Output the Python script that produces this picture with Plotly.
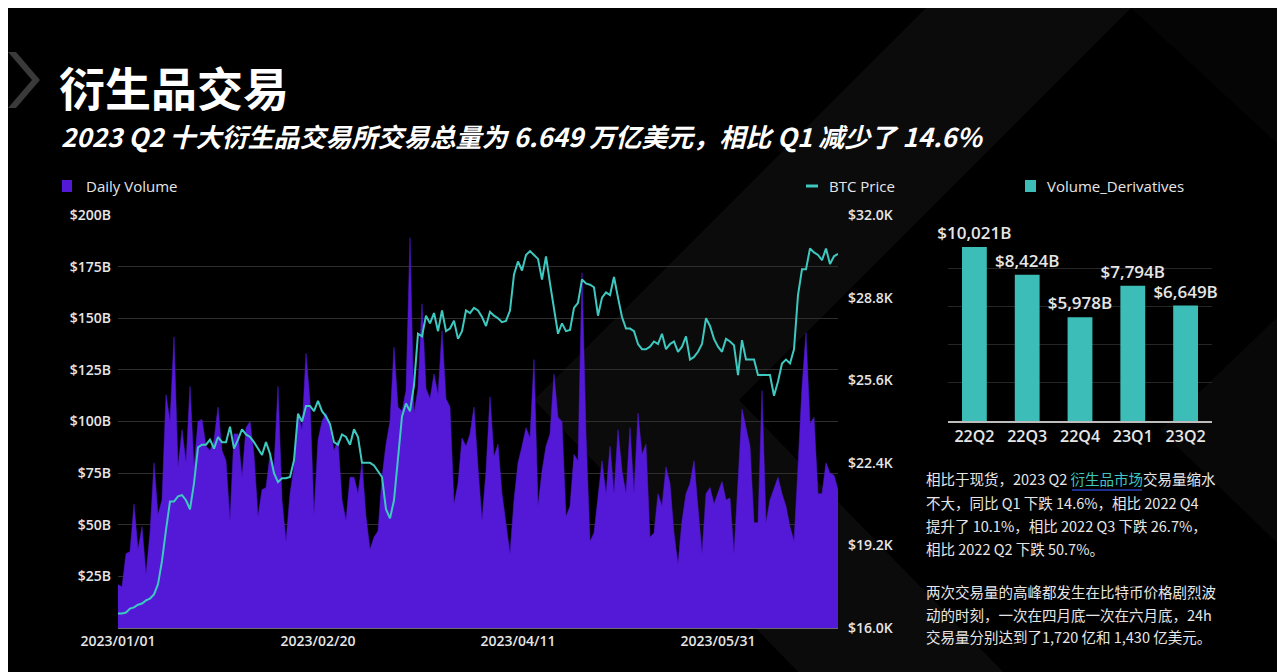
import pandas as pd
import plotly.graph_objects as go

W, H = 1285, 672

# ---------------- data ----------------
start_date = "2023-01-01"
end_date = "2023-06-30"

daily_volume_b = [
    21, 20, 36, 37, 60, 38, 49, 26, 46, 80,
    55, 62, 113, 100, 141, 78, 96, 80, 117, 78,
    100, 101, 88, 86, 91, 107, 86, 81, 52, 94,
    94, 73, 97, 100, 84, 54, 67, 68, 84, 78,
    117, 62, 42, 65, 78, 104, 96, 133, 110, 55,
    91, 100, 104, 97, 86, 91, 62, 52, 73, 73,
    65, 80, 54, 38, 44, 47, 73, 89, 100, 136,
    107, 105, 115, 189, 104, 116, 157, 116, 111, 123,
    113, 144, 111, 107, 60, 70, 92, 88, 94, 107,
    78, 52, 76, 112, 83, 89, 65, 49, 36, 62,
    80, 88, 97, 92, 130, 59, 76, 88, 94, 123,
    102, 100, 54, 59, 84, 81, 172, 94, 42, 46,
    62, 81, 65, 88, 65, 96, 76, 65, 97, 65,
    104, 84, 89, 44, 46, 65, 59, 78, 70, 46,
    31, 52, 65, 70, 81, 60, 36, 65, 68, 60,
    65, 71, 62, 63, 36, 70, 106, 97, 88, 51,
    51, 115, 51, 62, 68, 73, 65, 59, 49, 42,
    78, 117, 143, 99, 102, 65, 65, 80, 75, 74,
    67,
]

btc_price_k = [
    16.56, 16.56, 16.6, 16.75, 16.8, 16.9, 16.95, 17.07, 17.14, 17.3,
    17.7, 18.6, 19.8, 20.9, 20.9, 21.1, 21.15, 20.95, 20.6, 21.6,
    23.0, 23.1, 23.1, 23.3, 22.95, 23.4, 23.2, 23.2, 23.8, 22.95,
    23.3, 23.7, 23.5, 23.4, 23.2, 22.95, 22.7, 23.2, 22.75, 22.0,
    21.65, 21.8, 21.8, 21.85, 22.5, 24.3, 24.0, 24.6, 24.6, 24.4,
    24.8, 24.4, 24.2, 23.9, 23.2, 23.1, 23.5, 23.4, 23.1, 23.7,
    23.4, 22.4, 22.4, 22.4, 22.3, 22.05, 21.85, 20.6, 20.25, 20.95,
    22.65, 24.2, 24.7, 24.4, 25.4, 27.4, 27.3, 28.1, 27.8, 28.2,
    27.5, 28.3, 27.5, 27.6, 27.9, 27.2, 27.5, 28.3, 28.2, 28.4,
    28.3, 28.05, 27.7, 28.25, 28.1, 28.0, 27.85, 27.9, 28.3, 29.7,
    30.2, 29.85, 30.45, 30.6, 30.45, 30.3, 29.5, 30.4, 29.35, 28.3,
    27.4, 27.8, 27.5, 27.55, 28.4, 28.6, 29.5, 29.35, 29.3, 29.2,
    28.1, 28.8, 29.0, 28.9, 29.6, 28.8, 28.05, 27.6, 27.6, 27.5,
    27.0, 26.8, 26.8, 26.9, 27.1, 27.0, 27.4, 26.8, 27.0, 27.1,
    26.7, 26.9, 27.3, 26.4, 26.5, 26.7, 27.0, 28.0, 27.7, 27.2,
    26.9, 26.7, 27.2, 27.1, 26.95, 25.8, 27.15, 26.4, 26.4, 26.4,
    25.8, 25.8, 25.8, 25.8, 25.0, 25.55, 26.25, 26.4, 26.25, 26.8,
    28.9, 29.9, 29.9, 30.7, 30.55, 30.45, 30.25, 30.7, 30.1, 30.4,
    30.5,
]

date_tick_vals = ["2023-01-01", "2023-02-20", "2023-04-11", "2023-05-31"]
date_tick_text = ["2023/01/01", "2023/02/20", "2023/04/11", "2023/05/31"]

vol_tick_vals = [25, 50, 75, 100, 125, 150, 175, 200]
vol_tick_text = ["$25B", "$50B", "$75B", "$100B", "$125B", "$150B", "$175B", "$200B"]

price_tick_vals = [16.0, 19.2, 22.4, 25.6, 28.8, 32.0]
price_tick_text = ["$16.0K", "$19.2K", "$22.4K", "$25.6K", "$28.8K", "$32.0K"]

quarters = ["22Q2", "22Q3", "22Q4", "23Q1", "23Q2"]
volume_derivatives_b = [10021, 8424, 5978, 7794, 6649]

title_text = "衍生品交易"
subtitle_text = "2023 Q2 十大衍生品交易所交易总量为 6.649 万亿美元，相比 Q1 减少了 14.6%"
note_lines = [
    "相比于现货，2023 Q2 <span style='color:#3ec6c0'>衍生品市场</span>交易量缩水",
    "不大，同比 Q1 下跌 14.6%，相比 2022 Q4",
    "提升了 10.1%，相比 2022 Q3 下跌 26.7%，",
    "相比 2022 Q2 下跌 50.7%。",
    "两次交易量的高峰都发生在比特币价格剧烈波",
    "动的时刻，一次在四月底一次在六月底，24h",
    "交易量分别达到了1,720 亿和 1,430 亿美元。",
]

# ---------------- styles ----------------
PURPLE = "#5419d6"
TEAL_LINE = "#3ec9c0"
TEAL_BAR = "#3dbdb8"
TXT = "#e6e6e6"
GRID = "#2e2e2e"
FONT = "Open Sans, Noto Sans CJK SC, sans-serif"
CJK = "Noto Sans CJK SC, Open Sans, sans-serif"

OFF = 8  # page body margin


def px(x):
    return (x - OFF) / W


def py(y):
    return 1 - (y - OFF) / H


dates = pd.date_range(start_date, end_date, freq="D")

fig = go.Figure()

fig.add_trace(go.Scatter(
    x=dates, y=daily_volume_b, mode="lines", fill="tozeroy",
    fillcolor=PURPLE, line=dict(color=PURPLE, width=0.5),
    xaxis="x", yaxis="y", showlegend=False, hoverinfo="skip",
))
fig.add_trace(go.Scatter(
    x=dates, y=btc_price_k, mode="lines",
    line=dict(color=TEAL_LINE, width=2),
    xaxis="x", yaxis="y3", showlegend=False, hoverinfo="skip",
))
fig.add_trace(go.Bar(
    x=quarters, y=volume_derivatives_b, marker=dict(color=TEAL_BAR, line=dict(width=0)),
    texttemplate="$%{y:,.0f}B", textposition="outside", constraintext="none",
    textfont=dict(family=FONT, size=17, color=TXT, weight=600), cliponaxis=False,
    xaxis="x2", yaxis="y2", showlegend=False, hoverinfo="skip",
))


def poly(pts):
    return "M " + " L ".join(f"{px(x):.5f},{py(y):.5f}" for x, y in pts) + " Z"


shapes = []
shapes.append(dict(type="path", xref="paper", yref="paper", layer="below",
                   path=poly([(926, 8), (1131, 8), (739, 400), (1011, 680), (806, 680), (534, 400)]),
                   fillcolor="rgba(255,255,255,0.045)", line=dict(width=0)))
shapes.append(dict(type="path", xref="paper", yref="paper", layer="below",
                   path=poly([(1131, 8), (1295, 8), (1295, 160)]),
                   fillcolor="rgba(255,255,255,0.02)", line=dict(width=0)))
shapes.append(dict(type="path", xref="paper", yref="paper", layer="below",
                   path=poly([(1295, 300), (1295, 560), (1160, 430)]),
                   fillcolor="rgba(255,255,255,0.03)", line=dict(width=0)))
# left chevron
shapes.append(dict(type="path", xref="paper", yref="paper", layer="below",
                   path=poly([(8, 52), (16, 52), (40, 80), (16, 108), (8, 108), (32, 80)]),
                   fillcolor="#3a3a3a", line=dict(width=0)))
# legend markers
shapes.append(dict(type="rect", xref="paper", yref="paper",
                   x0=px(62), x1=px(72), y0=py(192), y1=py(180),
                   fillcolor=PURPLE, line=dict(width=0)))
shapes.append(dict(type="line", xref="paper", yref="paper",
                   x0=px(806), x1=px(818), y0=py(186), y1=py(186),
                   line=dict(color=TEAL_LINE, width=3)))
shapes.append(dict(type="rect", xref="paper", yref="paper",
                   x0=px(1025), x1=px(1036), y0=py(192), y1=py(180),
                   fillcolor=TEAL_BAR, line=dict(width=0)))
# underline under highlighted phrase
shapes.append(dict(type="line", xref="paper", yref="paper",
                   x0=px(1072), x1=px(1142), y0=py(490), y1=py(490),
                   line=dict(color="#1f2f8f", width=2)))

annotations = [
    dict(text=f"<b>{title_text}</b>", x=px(57), y=py(86), xanchor="left", yanchor="middle",
         font=dict(family=CJK, size=46, color="white")),
    dict(text=f"<b><i>{subtitle_text}</i></b>", x=px(59), y=py(135), xanchor="left", yanchor="middle",
         font=dict(family=CJK, size=26, color="white")),
    dict(text="Daily Volume", x=px(84), y=py(186), xanchor="left", yanchor="middle",
         font=dict(family=FONT, size=15, color=TXT)),
    dict(text="BTC Price", x=px(827), y=py(186), xanchor="left", yanchor="middle",
         font=dict(family=FONT, size=15, color=TXT)),
    dict(text="Volume_Derivatives", x=px(1045), y=py(186), xanchor="left", yanchor="middle",
         font=dict(family=FONT, size=15, color=TXT)),
]
line_ys = [479, 502, 525, 548, 591, 614, 636]
for txt, yy in zip(note_lines, line_ys):
    annotations.append(dict(text=txt, x=px(924), y=py(yy), xanchor="left", yanchor="middle",
                            font=dict(family=CJK, size=14.5, color=TXT)))
for a in annotations:
    a.update(xref="paper", yref="paper", showarrow=False)

TICKFONT = dict(family=FONT, size=14, color=TXT, weight=600)

fig.update_layout(
    width=W, height=H, margin=dict(l=0, r=0, t=0, b=0, pad=0, autoexpand=False),
    paper_bgcolor="black", plot_bgcolor="rgba(0,0,0,0)",
    font=dict(family=FONT, color=TXT),
    shapes=shapes, annotations=annotations,
    bargap=0.53,
    xaxis=dict(domain=[px(118), px(838)], type="date",
               range=[start_date, end_date], tickvals=date_tick_vals, ticktext=date_tick_text,
               showgrid=False, zeroline=False, showline=True, linecolor="#6a6a6a", linewidth=1,
               ticks="", tickfont=TICKFONT, anchor="y", automargin=False),
    yaxis=dict(domain=[py(628), py(215)], range=[0, 200], tickvals=vol_tick_vals, ticktext=vol_tick_text,
               showgrid=True, gridcolor=GRID, gridwidth=1, zeroline=False, showline=False,
               ticks="", tickfont=TICKFONT, anchor="x", automargin=False, ticklabelstandoff=6),
    yaxis3=dict(overlaying="y", side="right", anchor="x", range=[16, 32],
                tickvals=price_tick_vals, ticktext=price_tick_text,
                showgrid=False, zeroline=False, showline=False, ticks="", automargin=False,
                tickfont=TICKFONT, ticklabelstandoff=9),
    xaxis2=dict(domain=[px(948), px(1212)], anchor="y2", showgrid=False, zeroline=False,
                showline=True, linecolor="#bdbdbd", linewidth=2, ticks="", automargin=False,
                tickfont=dict(family=FONT, size=16, color=TXT, weight=600)),
    yaxis2=dict(domain=[py(421), py(230)], anchor="x2", range=[0, 11000], dtick=2200,
                showgrid=True, gridcolor="#262626", gridwidth=1, zeroline=False,
                showticklabels=False, ticks="", automargin=False),
)

fig.write_html("out.html")
